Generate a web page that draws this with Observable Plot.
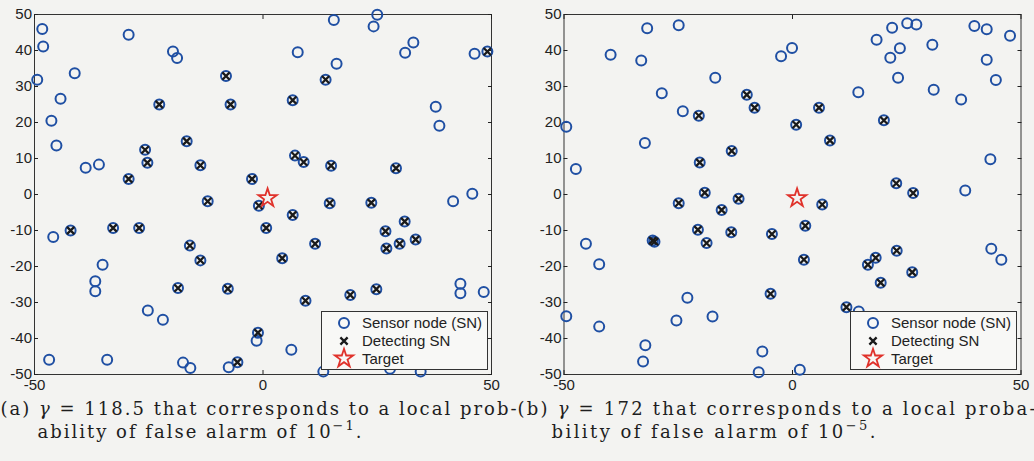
<!DOCTYPE html>
<html>
<head>
<meta charset="utf-8">
<script src="https://cdn.jsdelivr.net/npm/d3@7"></script>
<script src="https://cdn.jsdelivr.net/npm/@observablehq/plot@0.6"></script>
<style>
  html, body { margin: 0; padding: 0; }
  body { width: 1034px; height: 461px; overflow: hidden; position: relative; background: #f3f3f1; }
  .panel { position: absolute; top: 0; }
  .legend { position: absolute; }
  #captions { position: absolute; left: 0; top: 0; pointer-events: none; }
</style>
</head>
<body>
<div id="left" class="panel" style="left:0px"></div>
<div id="right" class="panel" style="left:517px"></div>
<script>
// Sensor field, panel (a): gamma = 118.5 (local false-alarm probability 1e-1)
const leftIdle = [
  [-48.3, 46.0], [-48.1, 41.1], [-49.4, 31.9], [-41.2, 33.7], [-44.3, 26.6], [-46.3, 20.5],
  [-45.2, 13.6], [-38.8, 7.4], [-35.9, 8.3], [-29.4, 44.4], [-19.7, 39.7], [-18.8, 37.9],
  [15.5, 48.5], [25.0, 49.9], [24.2, 46.7], [7.6, 39.5], [16.1, 36.3], [31.1, 39.4],
  [32.9, 42.2], [46.3, 39.1], [37.8, 24.4], [38.6, 19.1], [45.8, 0.2], [41.6, -1.9],
  [43.2, -24.8], [43.2, -27.4], [48.3, -27.1], [6.2, -43.1], [-1.4, -40.6], [13.2, -49.2],
  [27.8, -48.4], [34.5, -49.2], [-45.9, -11.8], [-35.1, -19.5], [-36.7, -24.1], [-36.7, -26.9],
  [-25.2, -32.2], [-21.9, -34.8], [-46.8, -45.9], [-34.1, -45.9], [-17.5, -46.7], [-15.9, -48.2],
  [-7.5, -48.0]
];
const leftDetecting = [
  [-22.7, 25.0], [-25.8, 12.4], [-25.3, 8.8], [-29.4, 4.3], [-16.7, 14.8], [-13.7, 8.1],
  [-8.1, 32.9], [-7.1, 25.0], [-2.4, 4.3], [-12.1, -1.9], [49.1, 39.7], [13.7, 31.9],
  [6.5, 26.2], [7.0, 10.8], [8.9, 9.0], [14.9, 8.0], [29.1, 7.3], [-0.9, -3.1],
  [14.6, -2.4], [23.7, -2.3], [6.5, -5.7], [0.7, -9.3], [11.4, -13.7], [4.2, -17.7],
  [9.3, -29.5], [19.1, -27.9], [24.8, -26.3], [26.8, -10.2], [31.0, -7.5], [27.0, -15.0],
  [29.9, -13.7], [33.4, -12.5], [-1.1, -38.4], [-42.1, -10.0], [-32.8, -9.3], [-27.1, -9.3],
  [-16.0, -14.2], [-13.7, -18.3], [-18.6, -26.0], [-7.7, -26.2], [-5.6, -46.6]
];

// Sensor field, panel (b): gamma = 172 (local false-alarm probability 1e-5)
const rightIdle = [
  [-31.8, 46.2], [-24.9, 47.0], [-39.8, 38.8], [-33.1, 37.2], [-16.9, 32.4], [-28.6, 28.1],
  [-24.0, 23.1], [-49.5, 18.8], [-32.3, 14.3], [-47.4, 7.1], [-2.5, 38.4], [-0.1, 40.7],
  [18.4, 43.0], [21.8, 46.3], [25.1, 47.6], [27.1, 47.2], [23.5, 40.6], [21.4, 38.0],
  [30.6, 41.6], [23.1, 32.4], [14.4, 28.4], [30.9, 29.1], [36.9, 26.4], [39.8, 46.8],
  [42.5, 45.9], [47.6, 44.1], [42.5, 37.4], [44.5, 31.8], [43.3, 9.8], [37.8, 1.1],
  [43.5, -15.1], [45.7, -18.1], [1.6, -48.7], [-45.2, -13.7], [-42.3, -19.4], [-49.5, -33.8],
  [-42.3, -36.7], [-23.0, -28.7], [-25.4, -35.0], [-17.5, -33.9], [-32.2, -41.9], [-32.7, -46.4],
  [-6.6, -43.6], [-7.4, -49.4], [14.5, -32.5]
];
const rightDetecting = [
  [-10.0, 27.7], [-8.3, 24.1], [-20.5, 21.9], [-13.3, 12.1], [-20.3, 8.9], [-19.2, 0.5],
  [5.8, 24.1], [0.8, 19.4], [8.2, 15.0], [20.0, 20.6], [22.7, 3.1], [26.4, 0.4],
  [6.5, -2.8], [2.8, -8.7], [-4.5, -11.0], [2.5, -18.1], [-4.8, -27.6], [16.5, -19.5],
  [18.2, -17.6], [22.8, -15.6], [19.3, -24.5], [26.2, -21.6], [11.8, -31.3], [-24.9, -2.4],
  [-11.8, -1.2], [-15.5, -4.3], [-20.7, -9.8], [-18.8, -13.5], [-13.4, -10.5], [-30.6, -12.8],
  [-30.2, -13.1]
];

const target = [[1, -1]];

const xTicks = [-50, 0, 50];
const yTicks = [-50, -40, -30, -20, -10, 0, 10, 20, 30, 40, 50];
const legendLabels = ["Sensor node (SN)", "Detecting SN", "Target"];

const BLUE = "#1f4fa3";
const RED = "#e0322b";
const INK = "#1a1a1a";

function field(idle, detecting, marginLeft, marginRight) {
  const px = d => d[0], py = d => d[1];
  return Plot.plot({
    width: 517,
    height: 395,
    marginTop: 14,
    marginBottom: 21,
    marginLeft,
    marginRight,
    x: {domain: [-50, 50]},
    y: {domain: [-50, 50]},
    style: {
      fontFamily: "'Liberation Sans', Arial, sans-serif",
      fontSize: "15px",
      background: "transparent",
      color: "#222",
      overflow: "visible"
    },
    marks: [
      Plot.frame({stroke: "#333", strokeWidth: 1}),
      Plot.axisX({ticks: xTicks, tickSize: -4, tickPadding: 9, tickFormat: d => String(d), label: null}),
      Plot.axisX({anchor: "top", ticks: xTicks, tickSize: -4, tickFormat: () => "", label: null}),
      Plot.axisY({ticks: yTicks, tickSize: -4, tickPadding: 6.5, tickFormat: d => String(d), label: null}),
      Plot.axisY({anchor: "right", ticks: yTicks, tickSize: -4, tickFormat: () => "", label: null}),
      Plot.dot(idle.concat(detecting), {x: px, y: py, r: 5, stroke: BLUE, strokeWidth: 2, fill: "none"}),
      Plot.dot(detecting, {x: px, y: py, symbol: "times", r: 3.4, stroke: INK, strokeWidth: 2.3}),
      Plot.dot(target, {x: px, y: py, symbol: "star", r: 5.8, stroke: RED, strokeWidth: 1.8, fill: "none"})
    ]
  });
}

document.getElementById("left").append(field(leftIdle, leftDetecting, 34, 26));
document.getElementById("right").append(field(rightIdle, rightDetecting, 46.5, 13.5));

// Legend boxes drawn over the lower-right corner of each axes
function legend(container, left, top) {
  const w = 167, h = 59;
  const svg = d3.select(container).append("svg")
    .attr("class", "legend")
    .attr("width", w).attr("height", h)
    .style("left", left + "px").style("top", top + "px");
  svg.append("rect").attr("x", 0.5).attr("y", 0.5).attr("width", w - 1).attr("height", h - 1)
    .attr("fill", "#f8f8f6").attr("stroke", "#333");
  const rows = [12, 30, 47.5];
  const g = svg.append("g");
  g.append("circle").attr("cx", 23).attr("cy", rows[0]).attr("r", 5)
    .attr("fill", "none").attr("stroke", BLUE).attr("stroke-width", 2);
  g.append("path").attr("d", d3.symbol(d3.symbolTimes, 36)())
    .attr("transform", `translate(23,${rows[1]})`)
    .attr("fill", "none").attr("stroke", INK).attr("stroke-width", 2.3);
  g.append("path").attr("d", d3.symbol(d3.symbolStar, 105)())
    .attr("transform", `translate(23,${rows[2]})`)
    .attr("fill", "none").attr("stroke", RED).attr("stroke-width", 1.8);
  svg.selectAll("text.lab").data(legendLabels).join("text")
    .attr("class", "lab")
    .attr("x", 41).attr("y", (d, i) => rows[i]).attr("dy", "0.36em")
    .attr("font-family", "'Liberation Sans', Arial, sans-serif")
    .attr("font-size", 15).attr("fill", "#222")
    .text(d => d);
}
legend(document.getElementById("left"), 320.5, 310.5);
legend(document.getElementById("right"), 850 - 517, 310.5);

// Sub-figure captions
const cap = d3.select("body").append("svg").attr("id", "captions")
  .attr("width", 1034).attr("height", 461);
const serif = "'DejaVu Serif', 'Liberation Serif', serif";
function line(x, y, len, parts) {
  const t = cap.append("text").attr("x", x).attr("y", y)
    .attr("font-family", serif).attr("font-size", 18).attr("fill", "#1e1e1e")
    .attr("textLength", len).attr("lengthAdjust", "spacing");
  for (const p of parts) {
    const s = t.append("tspan").text(p.text);
    if (p.italic) s.attr("font-style", "italic");
    if (p.sup) s.attr("font-size", 13).attr("dy", -8);
    if (p.down) s.attr("dy", 8);
  }
}
line(0.5, 415, 516, [{text: "(a) "}, {text: "γ", italic: true}, {text: " = 118.5 that corresponds to a local prob-"}]);
line(37.5, 438, 324, [{text: "ability of false alarm of 10"}, {text: "−1", sup: true}, {text: ".", down: true}]);
line(517.5, 415, 518, [{text: "(b) "}, {text: "γ", italic: true}, {text: " = 172 that corresponds to a local proba-"}]);
line(551.5, 438, 324, [{text: "bility of false alarm of 10"}, {text: "−5", sup: true}, {text: ".", down: true}]);
</script>
</body>
</html>
